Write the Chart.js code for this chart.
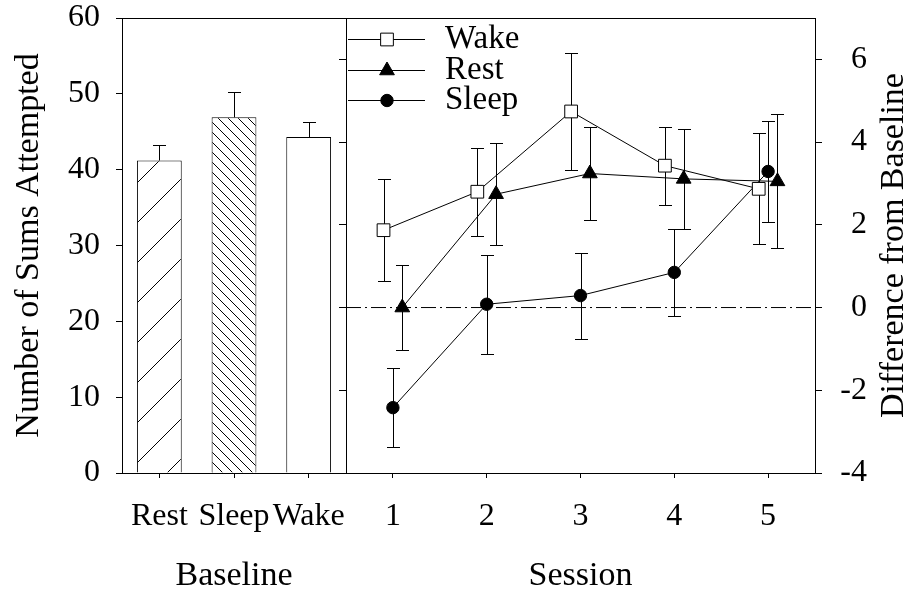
<!DOCTYPE html>
<html>
<head>
<meta charset="utf-8">
<title>Sums attempted</title>
<script src="https://cdn.jsdelivr.net/npm/chart.js@4.4.1/dist/chart.umd.min.js"></script>
<style>
  html, body { margin: 0; padding: 0; background: #fff; }
  #wrap { position: relative; width: 912px; height: 596px; }
  #wrap canvas { position: absolute; left: 0; top: 0; }
</style>
</head>
<body>
<div id="wrap">
  <canvas id="baseChart" width="912" height="596"></canvas>
  <canvas id="sessionChart" width="912" height="596"></canvas>
</div>
<script>
"use strict";

// baseline panel (left)
const baselineLabels = ['Rest', 'Sleep', 'Wake'];
const baselineMeans = [41.2, 46.9, 44.3];
const baselineErr = [2.0, 3.3, 2.0];
const baselineTicks = [0, 10, 20, 30, 40, 50, 60];

// session panel (right), difference from baseline
const sessions = [1, 2, 3, 4, 5];
const wakeDiff = [1.87, 2.80, 4.74, 3.43, 2.87];
const wakeErr = [1.24, 1.06, 1.41, 0.94, 1.34];
const restDiff = [0.0, 2.74, 3.24, 3.11, 3.05];
const restErr = [1.02, 1.23, 1.12, 1.20, 1.62];
const sleepDiff = [-2.42, 0.08, 0.29, 0.85, 3.29];
const sleepErr = [0.95, 1.20, 1.04, 1.05, 1.22];
const diffTicks = [-4, -2, 0, 2, 4, 6];
const zeroLine = 0;

const SERIF = '"Liberation Serif", "Times New Roman", serif';
Chart.defaults.font.family = SERIF;
Chart.defaults.color = '#000';

// hatch fill for the bars
function hatch(ctx, size, dir) {
  const c = document.createElement('canvas');
  c.width = size; c.height = size;
  const g = c.getContext('2d');
  g.fillStyle = '#fff';
  g.fillRect(0, 0, size, size);
  g.strokeStyle = '#000';
  g.lineWidth = 1;
  g.beginPath();
  [-size, 0, size].forEach(k => {
    if (dir === '/') { g.moveTo(k, size); g.lineTo(k + size, 0); }
    else { g.moveTo(k, 0); g.lineTo(k + size, size); }
  });
  g.stroke();
  return ctx.createPattern(c, 'repeat');
}

function mark(ctx, style, r, x, y) {
  if (Chart.helpers && Chart.helpers.drawPoint) {
    Chart.helpers.drawPoint(ctx, {pointStyle: style, radius: r, rotation: 0, borderWidth: 1}, x, y);
    return;
  }
  ctx.beginPath();
  if (style === 'rect') { const h = r * Math.SQRT1_2; ctx.rect(x - h, y - h, 2 * h, 2 * h); }
  else if (style === 'triangle') {
    ctx.moveTo(x, y - r);
    ctx.lineTo(x + r * 0.866, y + r / 2);
    ctx.lineTo(x - r * 0.866, y + r / 2);
    ctx.closePath();
  } else ctx.arc(x, y, r, 0, Math.PI * 2);
  ctx.fill(); ctx.stroke();
}

const frame = {
  id: 'frame',
  afterDraw(chart) {
    const { ctx, chartArea: a } = chart;
    ctx.save();
    ctx.strokeStyle = '#000';
    ctx.lineWidth = 1;
    ctx.strokeRect(Math.round(a.left) + 0.5, Math.round(a.top) + 0.5,
      Math.round(a.right - a.left), Math.round(a.bottom - a.top));
    ctx.restore();
  }
};

const barErrors = {
  id: 'barErrors',
  afterDatasetsDraw(chart) {
    const { ctx, scales: { y } } = chart;
    const meta = chart.getDatasetMeta(0);
    ctx.save();
    ctx.strokeStyle = '#000';
    ctx.lineWidth = 1;
    meta.data.forEach((bar, i) => {
      const x = Math.round(bar.x) + 0.5;
      const y1 = Math.round(y.getPixelForValue(baselineMeans[i] + baselineErr[i])) + 0.5;
      ctx.beginPath();
      ctx.moveTo(x, bar.y);
      ctx.lineTo(x, y1);
      ctx.moveTo(x - 6.5, y1);
      ctx.lineTo(x + 6.5, y1);
      ctx.stroke();
    });
    ctx.restore();
  }
};

// ---------------- left panel
const baseCanvas = document.getElementById('baseChart');
const bctx = baseCanvas.getContext('2d');

new Chart(baseCanvas, {
  type: 'bar',
  data: {
    labels: baselineLabels,
    datasets: [{
      data: baselineMeans,
      backgroundColor: [hatch(bctx, 40, '/'), hatch(bctx, 10, '\\'), '#fff'],
      borderColor: '#000',
      borderWidth: 1,
      categoryPercentage: 0.8,
      barPercentage: 0.75
    }]
  },
  options: {
    responsive: false,
    animation: false,
    events: [],
    layout: { padding: { left: 0, top: 18, right: 912 - 346, bottom: 0 } },
    plugins: { legend: { display: false }, tooltip: { enabled: false } },
    scales: {
      x: {
        offset: true,
        grid: { drawOnChartArea: false, tickLength: 5, color: '#000', offset: false },
        border: { display: false },
        ticks: { font: { size: 32 }, padding: 19, color: '#000', maxRotation: 0, autoSkip: false },
        title: { display: true, text: 'Baseline', font: { size: 34 }, padding: { top: 0, bottom: 0 }, color: '#000' },
        afterFit(s) { s.height = 123; s.paddingLeft = 0; s.paddingRight = 0; }
      },
      y: {
        min: 0, max: 60,
        afterBuildTicks(s) { s.ticks = baselineTicks.map(v => ({ value: v })); },
        grid: { drawOnChartArea: false, tickLength: 6, color: '#000' },
        border: { display: false },
        ticks: { font: { size: 32 }, padding: 16, color: '#000' },
        title: { display: true, text: 'Number of Sums Attempted', font: { size: 34 }, padding: { top: 9, bottom: 0 }, color: '#000' },
        afterFit(s) { s.width = 122; s.paddingTop = 0; s.paddingBottom = 0; }
      }
    }
  },
  plugins: [barErrors, frame]
});

// ---------------- right panel
const pointErrors = {
  id: 'pointErrors',
  beforeDatasetsDraw(chart) {
    const { ctx, scales: { y } } = chart;
    ctx.save();
    ctx.strokeStyle = '#000';
    ctx.lineWidth = 1;
    chart.data.datasets.forEach((ds, di) => {
      if (!ds.errors) return;
      chart.getDatasetMeta(di).data.forEach((pt, i) => {
        const v = ds.data[i].y;
        const x = Math.round(pt.x) + 0.5;
        const yt = Math.round(y.getPixelForValue(v + ds.errors[i])) + 0.5;
        const yb = Math.round(y.getPixelForValue(v - ds.errors[i])) + 0.5;
        ctx.beginPath();
        ctx.moveTo(x, yt); ctx.lineTo(x, yb);
        ctx.moveTo(x - 6.5, yt); ctx.lineTo(x + 6.5, yt);
        ctx.moveTo(x - 6.5, yb); ctx.lineTo(x + 6.5, yb);
        ctx.stroke();
      });
    });
    ctx.restore();
  }
};

const innerLegend = {
  id: 'innerLegend',
  afterDraw(chart) {
    const { ctx, chartArea: a } = chart;
    const x0 = a.left + 2;
    ctx.save();
    ctx.font = '33px ' + SERIF;
    ctx.textBaseline = 'middle';
    ctx.textAlign = 'left';
    chart.data.datasets.filter(ds => ds.errors).forEach((ds, i) => {
      const y = Math.round(a.top + 21 + i * 30.5) + 0.5;
      ctx.strokeStyle = '#000';
      ctx.lineWidth = 1;
      ctx.beginPath();
      ctx.moveTo(x0, y); ctx.lineTo(x0 + 77, y);
      ctx.stroke();
      ctx.fillStyle = ds.pointBackgroundColor;
      mark(ctx, ds.pointStyle, ds.pointRadius, x0 + 39, y);
      ctx.fillStyle = '#000';
      ctx.fillText(ds.label, x0 + 97, y);
    });
    ctx.restore();
  }
};

const rightTitle = {
  id: 'rightTitle',
  afterDraw(chart) {
    const { ctx, chartArea: a } = chart;
    ctx.save();
    ctx.translate(894, (a.top + a.bottom) / 2);
    ctx.rotate(-Math.PI / 2);
    ctx.font = '34px ' + SERIF;
    ctx.fillStyle = '#000';
    ctx.textAlign = 'center';
    ctx.textBaseline = 'middle';
    ctx.fillText('Difference from Baseline', 0, 0);
    ctx.restore();
  }
};

function points(values, shift) {
  return sessions.map((s, i) => ({ x: s + shift, y: values[i] }));
}

const sessionMin = 0.5, sessionMax = 5.5;

new Chart(document.getElementById('sessionChart'), {
  type: 'line',
  data: {
    datasets: [
      {
        label: 'Wake', data: points(wakeDiff, -0.1), errors: wakeErr,
        pointStyle: 'rect', pointRadius: 9, pointBackgroundColor: '#fff',
        borderColor: '#000', pointBorderColor: '#000', pointBorderWidth: 1, borderWidth: 1
      },
      {
        label: 'Rest', data: points(restDiff, 0.1), errors: restErr,
        pointStyle: 'triangle', pointRadius: 8.5, pointBackgroundColor: '#000',
        borderColor: '#000', pointBorderColor: '#000', pointBorderWidth: 1, borderWidth: 1
      },
      {
        label: 'Sleep', data: points(sleepDiff, 0), errors: sleepErr,
        pointStyle: 'circle', pointRadius: 6.2, pointBackgroundColor: '#000',
        borderColor: '#000', pointBorderColor: '#000', pointBorderWidth: 1, borderWidth: 1
      },
      {
        label: 'zero', data: [{ x: sessionMin, y: zeroLine }, { x: sessionMax, y: zeroLine }],
        borderColor: '#000', borderWidth: 1, borderDash: [15, 4, 2, 4], pointRadius: 0
      }
    ]
  },
  options: {
    responsive: false,
    animation: false,
    events: [],
    layout: { padding: { left: 339, top: 18, right: 912 - 867, bottom: 0 } },
    plugins: { legend: { display: false }, tooltip: { enabled: false } },
    scales: {
      x: {
        type: 'linear', min: sessionMin, max: sessionMax,
        afterBuildTicks(s) { s.ticks = sessions.map(v => ({ value: v })); },
        grid: { drawOnChartArea: false, tickLength: 5, color: '#000' },
        border: { display: false },
        ticks: { font: { size: 32 }, padding: 19, color: '#000', maxRotation: 0 },
        title: { display: true, text: 'Session', font: { size: 34 }, padding: { top: 0, bottom: 0 }, color: '#000' },
        afterFit(s) { s.height = 123; s.paddingLeft = 0; s.paddingRight = 0; }
      },
      yl: {
        position: 'left', min: -4, max: 7,
        afterBuildTicks(s) { s.ticks = diffTicks.map(v => ({ value: v })); },
        grid: { drawOnChartArea: false, tickLength: 7, color: '#000' },
        border: { display: false },
        ticks: { display: false },
        afterFit(s) { s.width = 7; s.paddingTop = 0; s.paddingBottom = 0; }
      },
      y: {
        position: 'right', min: -4, max: 7,
        afterBuildTicks(s) { s.ticks = diffTicks.map(v => ({ value: v })); },
        grid: { drawOnChartArea: false, tickLength: 7, color: '#000' },
        border: { display: false },
        ticks: { font: { size: 32 }, padding: 17, color: '#000', crossAlign: 'far' },
        afterFit(s) { s.width = 867 - 815; s.paddingTop = 0; s.paddingBottom = 0; }
      }
    }
  },
  plugins: [pointErrors, innerLegend, rightTitle, frame]
});
</script>
</body>
</html>
